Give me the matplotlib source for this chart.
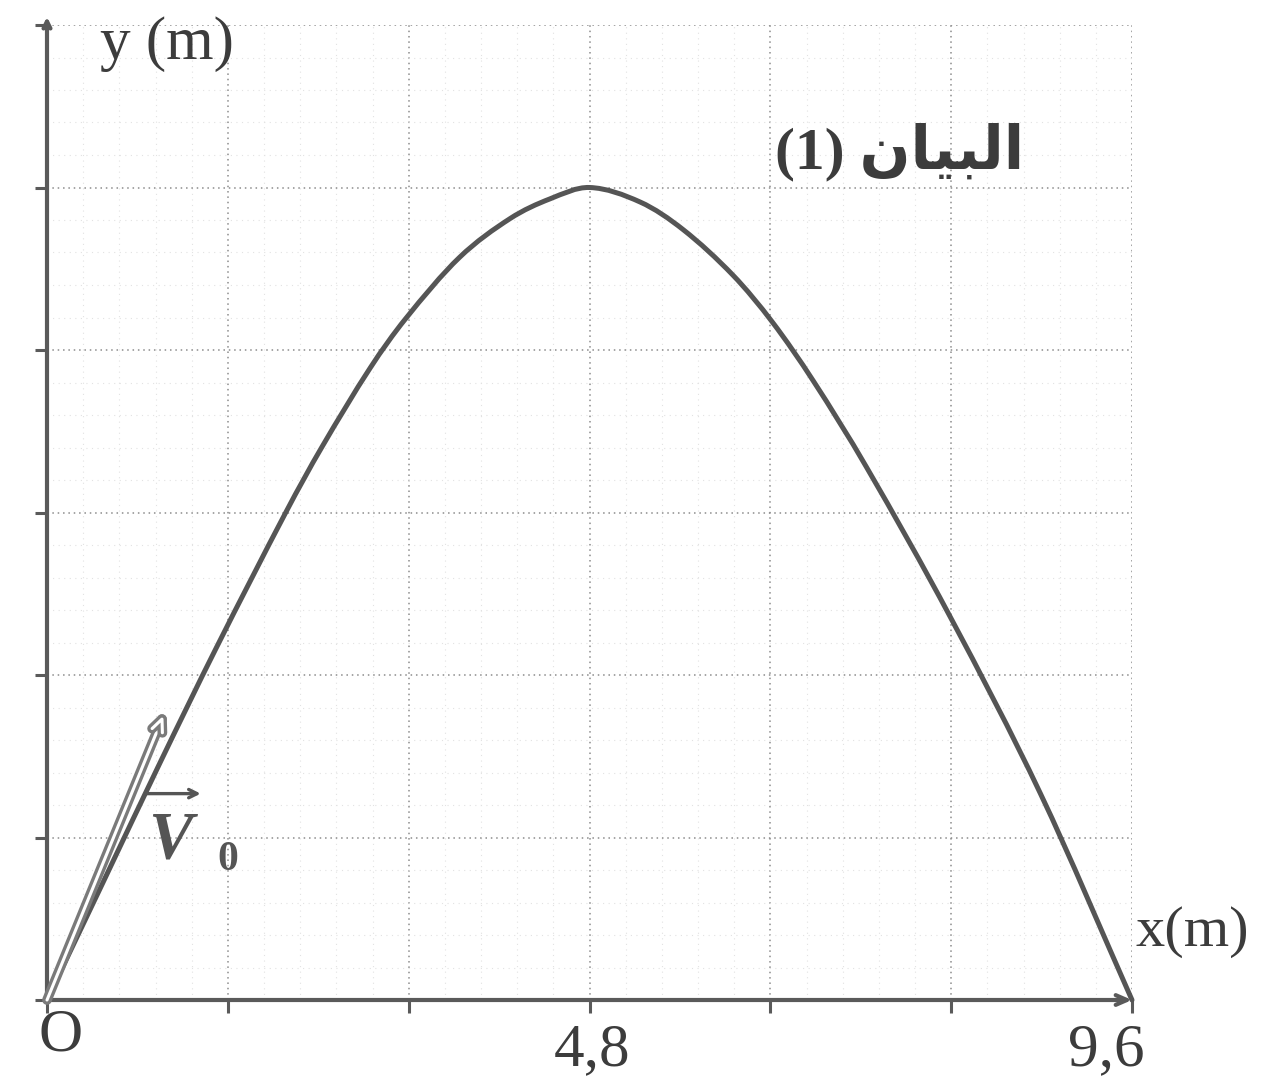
import matplotlib
matplotlib.use("Agg")
import matplotlib.pyplot as plt
import matplotlib.patheffects as pe
import numpy as np
from matplotlib.path import Path
from matplotlib.patches import PathPatch
from matplotlib.ticker import MultipleLocator

# trajectory points (x in m, y in grid units)
traj_x = [0, 0.50, 1.00, 1.50, 2.12, 2.43, 2.86, 3.17, 3.65, 4.10, 4.45, 4.80,
          5.25, 5.63, 6.07, 6.42, 6.78, 7.25, 7.99, 8.79, 9.60]
traj_y = [0, 0.73, 1.46, 2.17, 3.01, 3.40, 3.89, 4.19, 4.57, 4.81, 4.93, 5.00,
          4.91, 4.74, 4.46, 4.17, 3.81, 3.28, 2.36, 1.27, 0]

# initial velocity vector tip
v0_tip = (1.03, 1.75)

x_max = 9.6
y_max = 6
x_step = 1.6
y_step = 1

# Arabic title written in shaped presentation forms, visual order
title_ar = "\uFEE5\uFE8E\uFEF4\uFE92\uFEDF\uFE8D"

serif = ["Liberation Serif", "DejaVu Serif"]
ink = "#5a5a5a"
txt = "#3c3c3c"


def smooth_path(xs, ys):
    """Cubic Bezier path through the points, tangents from neighbouring slopes."""
    x = np.asarray(xs, float)
    y = np.asarray(ys, float)
    m = np.empty_like(y)
    m[1:-1] = (y[2:] - y[:-2]) / (x[2:] - x[:-2])
    m[0] = (y[1] - y[0]) / (x[1] - x[0])
    m[-1] = (y[-1] - y[-2]) / (x[-1] - x[-2])
    verts = [(x[0], y[0])]
    codes = [Path.MOVETO]
    for i in range(len(x) - 1):
        h = (x[i + 1] - x[i]) / 3
        verts += [(x[i] + h, y[i] + m[i] * h),
                  (x[i + 1] - h, y[i + 1] - m[i + 1] * h),
                  (x[i + 1], y[i + 1])]
        codes += [Path.CURVE4] * 3
    return Path(verts, codes)


fig = plt.figure(figsize=(12.79, 10.92), dpi=100)
ax = fig.add_axes([47 / 1279, 1 - 1000 / 1092, 1085 / 1279, 975 / 1092])
ax.set_xlim(0, x_max)
ax.set_ylim(0, y_max)

for s in ax.spines.values():
    s.set_visible(False)

ax.xaxis.set_major_locator(MultipleLocator(x_step))
ax.xaxis.set_minor_locator(MultipleLocator(x_step / 5))
ax.yaxis.set_major_locator(MultipleLocator(y_step))
ax.yaxis.set_minor_locator(MultipleLocator(y_step / 5))
ax.grid(which="major", ls=(0, (1, 2.5)), color="#8c8c8c", lw=1.1)
ax.grid(which="minor", ls=(0, (1, 4)), color="#e2e2e2", lw=0.8)
ax.tick_params(which="major", direction="out", length=9, width=2.2, color=ink,
               labelbottom=False, labelleft=False)
ax.tick_params(which="minor", length=0)

# axes with arrow heads
ax.annotate("", xy=(x_max, 0), xytext=(0, 0), annotation_clip=False,
            arrowprops=dict(arrowstyle="->,head_length=0.8,head_width=0.35",
                            color=ink, lw=3, shrinkA=0, shrinkB=0))
ax.annotate("", xy=(0, y_max + 0.05), xytext=(0, 0), annotation_clip=False,
            arrowprops=dict(arrowstyle="->,head_length=0.5,head_width=0.25",
                            color=ink, lw=3, shrinkA=0, shrinkB=0))

# trajectory
curve = PathPatch(smooth_path(traj_x, traj_y), fill=False, edgecolor="#555555",
                  lw=3.6, capstyle="round", joinstyle="round", clip_on=False, zorder=5)
ax.add_patch(curve)

# V0 vector, drawn as a hollow double stroke
ax.annotate("", xy=v0_tip, xytext=(0, 0), annotation_clip=False, zorder=6,
            arrowprops=dict(arrowstyle="->,head_length=0.9,head_width=0.4",
                            color="white", lw=2.2, shrinkA=0, shrinkB=0,
                            path_effects=[pe.Stroke(linewidth=7, foreground="#7a7a7a"),
                                          pe.Normal()]))
ax.annotate("", xy=(1.36, 1.27), xytext=(0.88, 1.27), annotation_clip=False,
            arrowprops=dict(arrowstyle="->,head_length=0.6,head_width=0.3",
                            color="#555555", lw=2.4, shrinkA=0, shrinkB=0))
ax.text(1.09, 0.98, "V", family=serif, fontsize=48, weight="bold", style="italic",
        color="#555555", ha="center", va="center")
ax.text(1.6, 0.86, "0", family=serif, fontsize=30, weight="bold",
        color="#555555", ha="center", va="center")

# labels
ax.text(0.47, 5.88, "y (m)", family=serif, fontsize=44, color=txt,
        ha="left", va="center", clip_on=False)
ax.text(9.63, 0.42, "x(m)", family=serif, fontsize=42, color=txt,
        ha="left", va="center", clip_on=False)
ax.text(0.12, -0.22, "O", family=serif, fontsize=44, color=txt,
        ha="center", va="center", clip_on=False)
ax.text(4.82, -0.31, "4,8", family=serif, fontsize=44, color=txt,
        ha="center", va="center", clip_on=False)
ax.text(9.71, -0.31, "9,6", family=serif, fontsize=44, color=txt,
        ha="right", va="center", clip_on=False)
ax.text(7.54, 5.22, "(1) " + title_ar, family=serif + ["DejaVu Sans"],
        fontsize=43, weight="bold", color=txt, ha="center", va="center")

fig.savefig("out.png", dpi=100, facecolor="white")
